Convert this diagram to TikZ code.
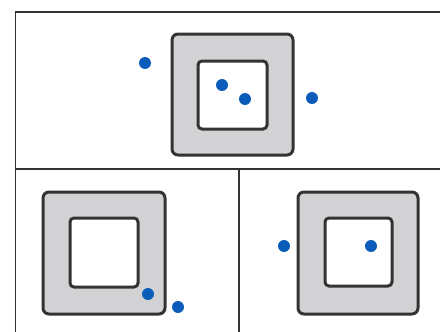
\documentclass[tikz,border=0pt]{standalone}
\definecolor{boxgray}{HTML}{D2D2D4}
\definecolor{edge}{HTML}{333333}
\definecolor{dotblue}{HTML}{0A5CB8}
\tikzset{
  frameline/.style={draw=edge, line width=1.5pt},
  outerbox/.style={draw=edge, line width=3pt, fill=boxgray, rounded corners=6pt},
  innerbox/.style={draw=edge, line width=3pt, fill=white, rounded corners=4pt},
  dot/.style={circle, fill=dotblue, inner sep=0pt, minimum size=12pt}
}
\begin{document}
\begin{tikzpicture}[x=1pt,y=-1pt]
\useasboundingbox[fill=white] (0,0) rectangle (440,332);
% frame
\coordinate (tl) at (15.5,12);
\coordinate (tr) at (440,12);
\coordinate (bl) at (15.5,332);
\coordinate (ml) at (15.5,169);
\coordinate (mr) at (440,169);
\coordinate (vt) at (239,169);
\coordinate (vb) at (239,332);
\draw[frameline] (bl) -- (tl) -- (tr);
\draw[frameline] (ml) -- (mr);
\draw[frameline] (vt) -- (vb);
% top
\draw[outerbox] (172,34) rectangle (293,155);
\draw[innerbox] (198,61) rectangle (267,129);
\node[dot] (a1) at (145,63) {};
\node[dot] (a2) at (222,85) {};
\node[dot] (a3) at (245,99) {};
\node[dot] (a4) at (312,98) {};
% bottom left
\draw[outerbox] (43,192) rectangle (165,314);
\draw[innerbox] (70,218) rectangle (138,287);
\node[dot] (b1) at (148,294) {};
\node[dot] (b2) at (178,307) {};
% bottom right
\draw[outerbox] (298,192) rectangle (418,314);
\draw[innerbox] (325,218) rectangle (392,286);
\node[dot] (c1) at (284,246) {};
\node[dot] (c2) at (371,246) {};
\end{tikzpicture}
\end{document}
